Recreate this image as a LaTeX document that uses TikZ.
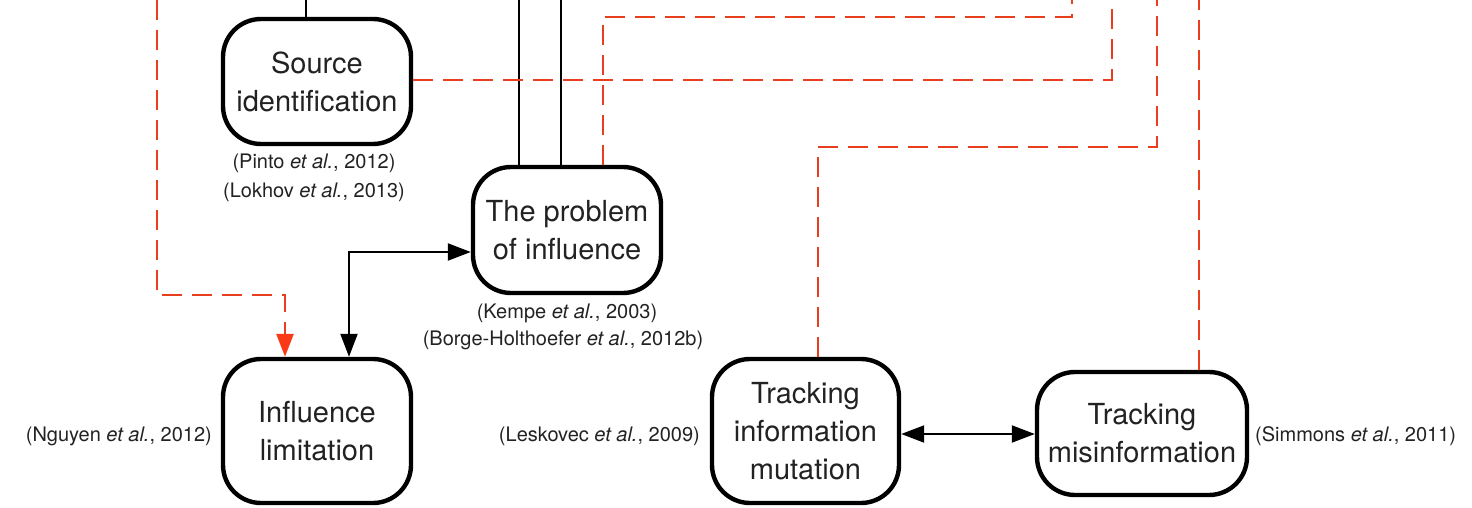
\documentclass[tikz,border=0pt]{standalone}
\usepackage{fontspec}
\setmainfont{TeX Gyre Heros}
\usetikzlibrary{arrows.meta}
\definecolor{linkred}{RGB}{232,62,30}
\definecolor{tipred}{RGB}{250,58,22}
\definecolor{inkgray}{RGB}{34,34,34}
\begin{document}
\begin{tikzpicture}[x=1pt,y=-1pt,
  topic/.style={draw=black, line width=4.4pt, rounded corners=38pt, align=center,
    inner sep=0pt, text=inkgray, font=\fontsize{29}{38}\selectfont},
  cite/.style={inner sep=0pt, text=inkgray, font=\fontsize{20}{28}\selectfont},
  link/.style={draw=black, line width=2.1pt},
  redlink/.style={draw=linkred, line width=2.7pt, dash pattern=on 20pt off 10pt},
  tipblack/.style={{Triangle[length=23pt,width=17pt]}-{Triangle[length=23pt,width=17pt]}},
  tipred/.style={-{Triangle[length=23pt,width=17pt,fill=tipred,color=tipred]}}
]
\useasboundingbox (0,0) rectangle (1472,508);

% topics
\node[topic, minimum width=188pt, minimum height=125pt] (src) at (317,81.5) {Source\\identification};
\node[topic, minimum width=188pt, minimum height=126pt] (prob) at (567,230) {The problem\\of influence};
\node[topic, minimum width=188pt, minimum height=144pt] (lim) at (317,431) {Influence\\limitation};
\node[topic, minimum width=187pt, minimum height=144pt] (mut) at (805.5,431) {Tracking\\information\\mutation};
\node[topic, minimum width=210pt, minimum height=123pt] (mis) at (1142,433.5) {Tracking\\misinformation};

% references
\node[cite] (c1) at (314,163) {(Pinto \textit{et al.}, 2012)};
\node[cite] (c2) at (314,192) {(Lokhov \textit{et al.}, 2013)};
\node[cite] (c3) at (567,313) {(Kempe \textit{et al.}, 2003)};
\node[cite] (c4) at (563,340) {(Borge-Holthoefer \textit{et al.}, 2012b)};
\node[cite, anchor=east] (c5) at (212,436) {(Nguyen \textit{et al.}, 2012)};
\node[cite, anchor=east] (c6) at (700,436) {(Leskovec \textit{et al.}, 2009)};
\node[cite, anchor=west] (c7) at (1255,436) {(Simmons \textit{et al.}, 2011)};

% free ends along the top edge and bend points
\coordinate (t1) at (306,0);
\coordinate (t2) at (519,0);
\coordinate (t3) at (561,0);
\coordinate (t4) at (1072,0);
\coordinate (t5) at (1112,0);
\coordinate (t6) at (157,0);
\coordinate (t7) at (1157,0);
\coordinate (t8) at (1199,0);
\coordinate (b1) at (603,17);
\coordinate (b2) at (157,295);
\coordinate (b3) at (285,295);
\coordinate (b4) at (818,147);
\coordinate (b5) at (349,252);
\coordinate (b6) at (960,434);
\coordinate (b7) at (1112,80);

% solid links
\draw[link] (src.north -| t1) -- (t1);
\draw[link] (prob.north -| t2) -- (t2);
\draw[link] (prob.north -| t3) -- (t3);
\draw[link, tipblack] (lim.north -| b5) |- (prob.west |- b5);
\draw[link, tipblack] (mut.east |- b6) -- (mis.west |- b6);

% dashed links
\draw[redlink] (prob.north -| b1) -- (b1) -| (t4);
\draw[redlink] (src.east |- b7) -- (b7) -- (t5);
\draw[redlink, tipred] (t6) -- (b2) -- (b3) -- (lim.north -| b3);
\draw[redlink] (mut.north -| b4) -- (b4) -| (t7);
\draw[redlink] (mis.north -| t8) -- (t8);
\end{tikzpicture}
\end{document}
